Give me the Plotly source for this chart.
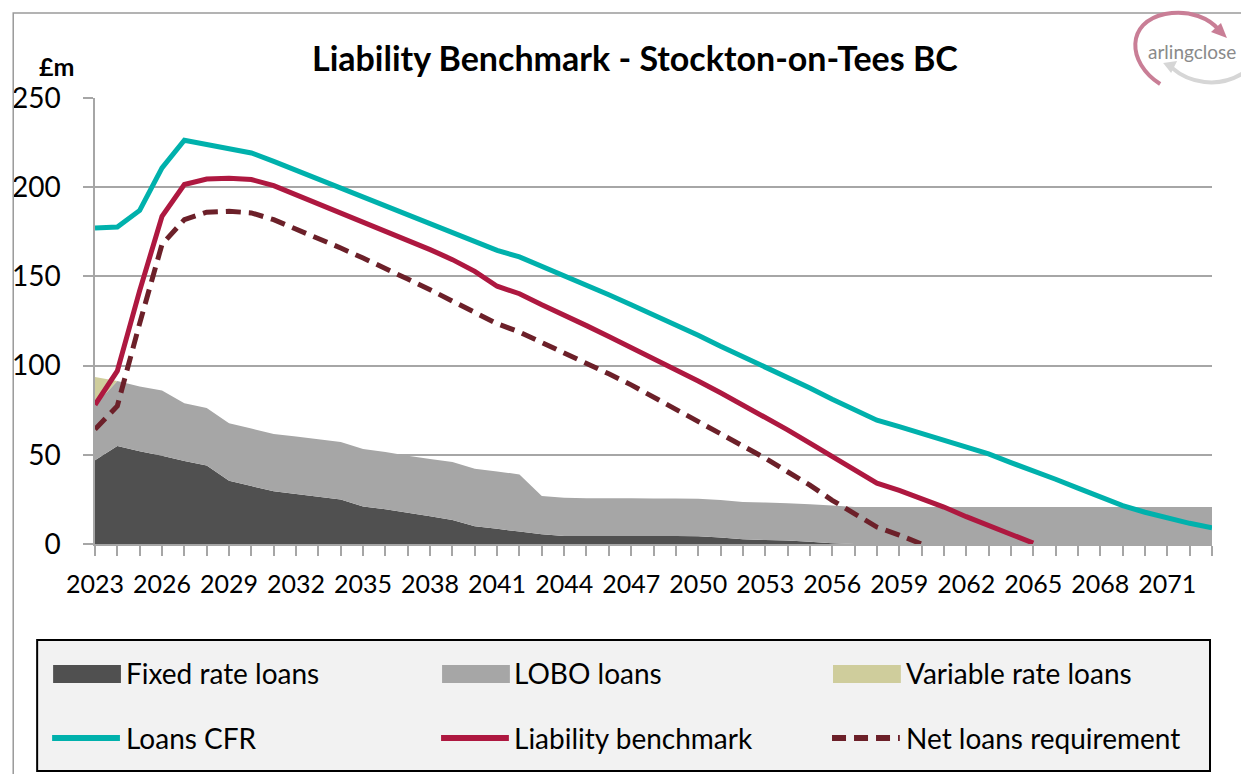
import plotly.graph_objects as go

# ---------------- data ----------------
years = list(range(2023, 2074))
tick_years = list(range(2023, 2074, 3))

fixed_rate_loans = [47, 55, 52, 49.5, 46.5, 44, 35.5, 32.5, 29.5, 28, 26.5, 25, 21, 19.5, 17.5,
                    15.5, 13.5, 10, 8.5, 7, 5.5, 4.5, 4.5, 4.5, 4.5, 4.5, 4.5, 4.3, 3.7, 2.6,
                    2.2, 1.9, 1.3, 0.4] + [0] * 17
lobo_loans = [31, 36.3, 36.3, 36.6, 32.4, 32.2, 32.2, 32.2, 32.2, 32.2, 32.2, 32.2, 32.2, 32,
              32, 32.2, 32.4, 32.2, 32.2, 32, 21.4, 21.4, 21.1, 21.1, 21.1, 21, 21, 21, 21,
              21, 21, 21, 21, 21.2, 20.8] + [20.7] * 16
variable_rate_loans = [15.6] + [0] * 50

loans_cfr = [177.2, 177.7, 187.0, 210.8, 226.3, 223.9, 222.0, 219.2, 214.5, 209.5, 204.3,
             199.6, 194.6, 189.7, 184.6, 180.0, 174.7, 169.6, 164.6, 160.9, 155.6, 151.0,
             145.3, 139.7, 134.1, 128.5, 122.6, 117.0, 110.8, 105.0, 99.5, 93.6, 87.5, 81.2,
             75.0, 69.4, 65.8, 62.1, 58.4, 54.6, 50.5, 45.6, 41.1, 36.3, 31.3, 26.2, 21.5,
             17.8, 14.4, 11.6, 9.1]
liability_benchmark = [78, 97, 142, 183.7, 201.5, 204.6, 205, 204.3, 200.9, 195.8, 190.8,
                       185.6, 180.9, 175.6, 170.2, 165, 159.4, 152.8, 144.5, 140.3, 134.1,
                       128.5, 122.4, 116.3, 110.2, 104.2, 97.9, 91.4, 84.8, 78, 71, 64, 56.5,
                       48.8, 41.1, 34.1, 30, 25.6, 20.7, 15.3, 10.5, 5.8, 0.5] + [None] * 8
net_loans_requirement = [64.3, 77.4, 123.7, 168, 181.8, 186, 186.5, 185.6, 181.8, 176.6,
                         171.5, 165.9, 160.3, 154.7, 148.5, 142.5, 136, 130, 123.5, 118.8,
                         113, 107.4, 101.4, 95.4, 89.2, 82.3, 75.6, 68.9, 62, 54.8, 48.1,
                         40.5, 33, 24.5, 16.8, 9.5, 5, 0] + [None] * 13

y_ticks = [0, 50, 100, 150, 200, 250]
title_text = "Liability Benchmark - Stockton-on-Tees BC"
unit_text = "£m"
area_names = ["Fixed rate loans", "LOBO loans", "Variable rate loans"]
line_names = ["Loans CFR", "Liability benchmark", "Net loans requirement"]

# ---------------- styles ----------------
FONT = "Lato"
C_FIXED, C_LOBO, C_VAR = "#505050", "#a6a6a6", "#cfcd9c"
C_CFR, C_LB, C_NLR = "#00b1ac", "#ae1840", "#6c2029"
GRID = "#a6a6a6"
W, H = 1241, 774
L, R, T, B = 92, 1212, 98, 544


def px(x):
    return (x - L) / (R - L)


def py(y):
    return (B - y) / (B - T)


def path(cmds):
    out = []
    for c in cmds:
        if isinstance(c, str):
            out.append(c)
        else:
            out.append(f"{px(c[0]):.5f},{py(c[1]):.5f}")
    return " ".join(out)


fig = go.Figure()
for vals, name, col in zip([fixed_rate_loans, lobo_loans, variable_rate_loans], area_names,
                           [C_FIXED, C_LOBO, C_VAR]):
    fig.add_trace(go.Scatter(x=years, y=vals, name=name, stackgroup="loans", mode="none",
                             fillcolor=col, showlegend=False))

fig.add_trace(go.Scatter(x=years, y=loans_cfr, name=line_names[0], mode="lines",
                         line=dict(color=C_CFR, width=5), showlegend=False))
fig.add_trace(go.Scatter(x=years, y=liability_benchmark, name=line_names[1], mode="lines",
                         line=dict(color=C_LB, width=5), showlegend=False))
fig.add_trace(go.Scatter(x=years, y=net_loans_requirement, name=line_names[2], mode="lines",
                         line=dict(color=C_NLR, width=5, dash="15px,8px"), showlegend=False))

shapes = []
annotations = []
# outer chart border
shapes.append(dict(type="rect", xref="paper", yref="paper", x0=px(10), x1=px(1260),
                   y0=py(13), y1=py(800), line=dict(color="#9a9a9a", width=1.5)))
# legend box
shapes.append(dict(type="rect", xref="paper", yref="paper", x0=px(34), x1=px(1210),
                   y0=py(640), y1=py(771), fillcolor="#f2f2f2",
                   line=dict(color="#000000", width=2)))
col_x = [50, 440, 832]
text_x = [121, 510, 903]
for i, (name, col) in enumerate(zip(area_names, [C_FIXED, C_LOBO, C_VAR])):
    shapes.append(dict(type="rect", xref="paper", yref="paper", x0=px(col_x[i]),
                       x1=px(col_x[i] + 68), y0=py(665), y1=py(683), fillcolor=col,
                       line=dict(width=0)))
    annotations.append(dict(text=name, xref="paper", yref="paper", x=px(text_x[i]),
                            y=py(673), xanchor="left", yanchor="middle", showarrow=False,
                            font=dict(family=FONT, size=28, color="#000000")))
for i, (name, col) in enumerate(zip(line_names, [C_CFR, C_LB, C_NLR])):
    shapes.append(dict(type="line", xref="paper", yref="paper", x0=px(col_x[i] - 1),
                       x1=px(col_x[i] + 67), y0=py(738), y1=py(738),
                       line=dict(color=col, width=6, dash="14px,8px" if i == 2 else "solid")))
    annotations.append(dict(text=name, xref="paper", yref="paper", x=px(text_x[i]),
                            y=py(738), xanchor="left", yanchor="middle", showarrow=False,
                            font=dict(family=FONT, size=28, color="#000000")))

# title and unit
annotations.append(dict(text=f"<b>{title_text}</b>", xref="paper", yref="paper", x=px(633),
                        y=py(57), xanchor="center", yanchor="middle", showarrow=False,
                        font=dict(family=FONT, size=34, color="#000000")))
annotations.append(dict(text=f"<b>{unit_text}</b>", xref="paper", yref="paper", x=px(53),
                        y=py(66), xanchor="center", yanchor="middle", showarrow=False,
                        font=dict(family=FONT, size=25, color="#000000")))

# logo
shapes.append(dict(type="path", xref="paper", yref="paper",
                   path=path(["M", (1160, 84), "C", (1126, 62), (1126, 22), (1165, 14),
                              "C", (1190, 9), (1210, 19), (1219, 30)]),
                   line=dict(color="#c97e96", width=4)))
shapes.append(dict(type="path", xref="paper", yref="paper",
                   path=path(["M", (1227, 38), "L", (1211, 32), "L", (1221, 23), "Z"]),
                   fillcolor="#c97e96", line=dict(width=0)))
shapes.append(dict(type="path", xref="paper", yref="paper",
                   path=path(["M", (1172, 68), "C", (1188, 82), (1218, 90), (1245, 72)]),
                   line=dict(color="#d6d6d6", width=4)))
shapes.append(dict(type="path", xref="paper", yref="paper",
                   path=path(["M", (1163, 63), "L", (1177, 61), "L", (1171, 73), "Z"]),
                   fillcolor="#d6d6d6", line=dict(width=0)))
annotations.append(dict(text="arlingclose", xref="paper", yref="paper", x=px(1192),
                        y=py(52), xanchor="center", yanchor="middle", showarrow=False,
                        font=dict(family=FONT, size=19, color="#8a8a8a")))

tick_text = [str(y) if y in tick_years else "" for y in years]

fig.update_layout(
    width=W, height=H,
    margin=dict(l=L, r=W - R, t=T, b=H - B, pad=0),
    paper_bgcolor="#ffffff", plot_bgcolor="#ffffff",
    showlegend=False,
    font=dict(family=FONT, color="#000000"),
    shapes=shapes, annotations=annotations,
    xaxis=dict(range=[2023, 2073], tickvals=years, ticktext=tick_text, showgrid=False,
               ticks="outside", ticklen=10, tickcolor=GRID, tickwidth=1.5,
               showline=True, linecolor=GRID, linewidth=1.5, zeroline=False,
               tickfont=dict(family=FONT, size=25, color="#000000"), ticklabelstandoff=7),
    yaxis=dict(range=[0, 250], tickvals=y_ticks, showgrid=True, gridcolor=GRID, gridwidth=1.5,
               ticks="outside", ticklen=10, tickcolor=GRID, tickwidth=1.5,
               showline=True, linecolor=GRID, linewidth=1.5, zeroline=False,
               tickfont=dict(family=FONT, size=28, color="#000000"), ticklabelstandoff=17),
)

fig.write_html("out.html", config={"displayModeBar": False},
               post_script="document.body.style.margin='0';")
